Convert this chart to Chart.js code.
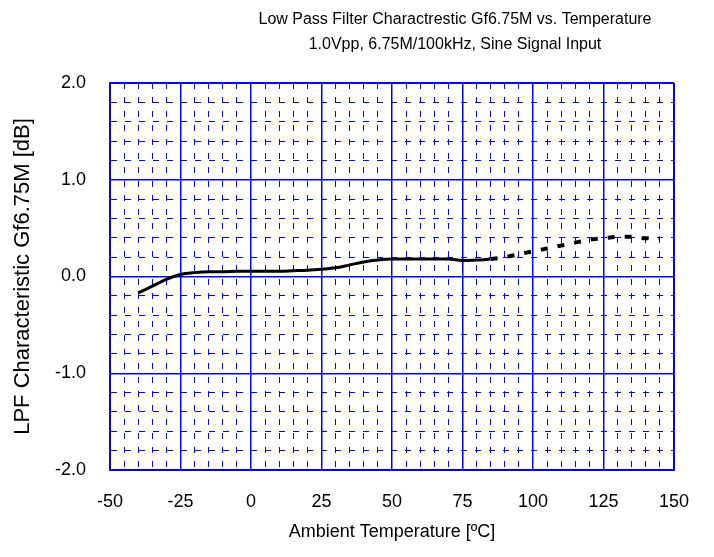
<!DOCTYPE html>
<html>
<head>
<meta charset="utf-8">
<script src="https://cdn.jsdelivr.net/npm/chart.js@4"></script>
<style>
  html, body { margin: 0; padding: 0; background: #fff; }
  #wrap { width: 714px; height: 557px; }
</style>
</head>
<body>
<div id="wrap"><canvas id="c" width="714" height="557"></canvas></div>
<script>
const titleLines = ['Low Pass Filter Charactrestic Gf6.75M vs. Temperature', '1.0Vpp, 6.75M/100kHz, Sine Signal Input'];
const xAxisTitle = 'Ambient Temperature [\u00BAC]';
const yAxisTitle = 'LPF Characteristic Gf6.75M [dB]';

const tempsSolid = [-40, -35, -30, -25, -20, -15, -10, -5, 0, 5, 10, 15, 20, 25, 30, 35, 40, 45, 50, 55, 60, 65, 70, 75, 80, 85];
const gainSolid  = [-0.17, -0.10, -0.03, 0.02, 0.04, 0.05, 0.05, 0.055, 0.055, 0.055, 0.055, 0.06, 0.065, 0.075, 0.09, 0.12, 0.15, 0.17, 0.18, 0.18, 0.18, 0.18, 0.18, 0.165, 0.17, 0.18];

const tempsDashed = [85, 90, 95, 100, 105, 110, 115, 120, 125, 130, 135, 140, 145];
const gainDashed  = [0.18, 0.20, 0.23, 0.26, 0.29, 0.32, 0.35, 0.38, 0.395, 0.41, 0.41, 0.395, 0.395];

const xMin = -50, xMax = 150, xMinorStep = 5, xMajorStep = 25;
const yMin = -2, yMax = 2, yMinorStep = 0.2, yMajorStep = 1;

const BLUE = '#0000ff';
const FONT = 'Arial, "Liberation Sans", sans-serif';

function isMajor(v, step) {
  const r = v / step;
  return Math.abs(r - Math.round(r)) < 1e-6;
}
function isEdge(v, lo, hi) {
  return Math.abs(v - lo) < 1e-6 || Math.abs(v - hi) < 1e-6;
}
function gridFor(lo, hi, step) {
  return {
    color: BLUE,
    drawTicks: false,
    tickLength: 0,
    lineWidth: (ctx) => {
      const v = ctx.tick ? ctx.tick.value : 0;
      if (isEdge(v, lo, hi)) return 2;
      return isMajor(v, step) ? 1.5 : 1;
    }
  };
}
function borderFor(step) {
  return {
    display: true,
    color: BLUE,
    width: 2,
    dash: (ctx) => {
      if (!ctx.tick) return [];
      return isMajor(ctx.tick.value, step) ? [] : [6, 8];
    }
  };
}

const titlePlugin = {
  id: 'twoLineTitle',
  afterDraw(chart) {
    const ctx = chart.ctx;
    ctx.save();
    ctx.fillStyle = '#000';
    ctx.font = '16px ' + FONT;
    ctx.textAlign = 'center';
    ctx.textBaseline = 'middle';
    const cx = 455;
    ctx.fillText(titleLines[0], cx, 20);
    ctx.fillText(titleLines[1], cx, 45);
    ctx.restore();
  }
};

new Chart(document.getElementById('c'), {
  type: 'line',
  data: {
    datasets: [
      {
        label: 'measured',
        data: tempsSolid.map((t, i) => ({ x: t, y: gainSolid[i] })),
        borderColor: '#000',
        borderWidth: 3,
        pointRadius: 0,
        cubicInterpolationMode: 'monotone',
        fill: false
      },
      {
        label: 'extrapolated',
        data: tempsDashed.map((t, i) => ({ x: t, y: gainDashed[i] })),
        borderColor: '#000',
        borderWidth: 4,
        borderDash: [7, 10],
        pointRadius: 0,
        cubicInterpolationMode: 'monotone',
        fill: false
      }
    ]
  },
  plugins: [titlePlugin],
  options: {
    responsive: false,
    animation: false,
    devicePixelRatio: 1,
    layout: { padding: { top: 83, right: 40, bottom: 0, left: 0 } },
    plugins: {
      legend: { display: false },
      tooltip: { enabled: false },
      title: { display: false }
    },
    scales: {
      x: {
        type: 'linear',
        min: xMin, max: xMax,
        afterFit: (s) => { s.height = 87; },
        ticks: {
          stepSize: xMinorStep,
          autoSkip: false,
          maxRotation: 0,
          padding: 21,
          color: '#000',
          font: { family: FONT, size: 18 },
          callback: (v) => isMajor(v, xMajorStep) ? String(Math.round(v)) : ''
        },
        grid: gridFor(xMin, xMax, xMajorStep),
        border: borderFor(xMajorStep),
        title: {
          display: true,
          text: xAxisTitle,
          color: '#000',
          font: { family: FONT, size: 18 },
          padding: 14
        }
      },
      y: {
        type: 'linear',
        min: yMin, max: yMax,
        afterFit: (s) => { s.width = 110; },
        ticks: {
          stepSize: yMinorStep,
          autoSkip: false,
          padding: 24,
          color: '#000',
          font: { family: FONT, size: 18 },
          callback: (v) => isMajor(v, yMajorStep) ? (Math.round(v)).toFixed(1) : ''
        },
        grid: gridFor(yMin, yMax, yMajorStep),
        border: borderFor(yMajorStep),
        title: {
          display: true,
          text: yAxisTitle,
          color: '#000',
          font: { family: FONT, size: 22 },
          padding: 10
        }
      }
    }
  }
});
</script>
</body>
</html>
